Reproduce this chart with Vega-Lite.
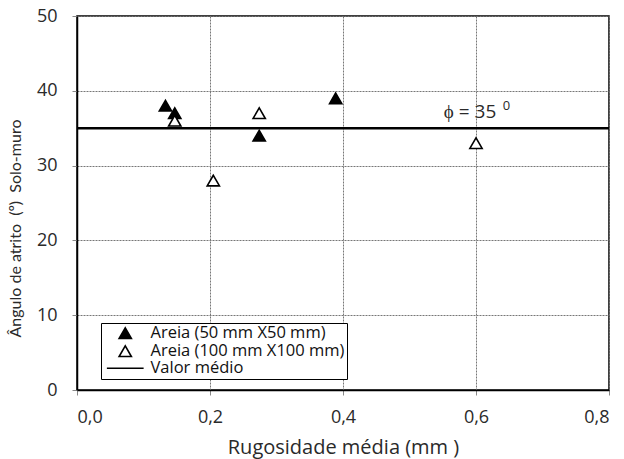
{
  "$schema": "https://vega.github.io/schema/vega-lite/v6.json",
  "width": 532,
  "height": 374,
  "autosize": "none",
  "padding": {"left": 77, "top": 16, "right": 15, "bottom": 69},
  "background": "white",
  "config": {
    "view": {"stroke": "black", "strokeWidth": 1.5},
    "axis": {
      "gridColor": "#777",
      "gridDash": [2, 1],
      "gridWidth": 1,
      "domainColor": "black",
      "domainWidth": 1.5,
      "tickColor": "#888",
      "tickSize": 5,
      "labelFont": "Open Sans",
      "labelFontSize": 18,
      "labelColor": "#2a2a2a",
      "titleFont": "Open Sans",
      "titleFontWeight": "normal",
      "titleColor": "#2a2a2a"
    }
  },
  "layer": [
    {
      "data": {
        "values": [
          {"rugosidade": 0.133, "angulo": 38, "serie": "Areia (50 mm X50 mm)"},
          {"rugosidade": 0.147, "angulo": 37, "serie": "Areia (50 mm X50 mm)"},
          {"rugosidade": 0.274, "angulo": 34, "serie": "Areia (50 mm X50 mm)"},
          {"rugosidade": 0.389, "angulo": 39, "serie": "Areia (50 mm X50 mm)"},
          {"rugosidade": 0.147, "angulo": 36, "serie": "Areia (100 mm X100 mm)"},
          {"rugosidade": 0.205, "angulo": 28, "serie": "Areia (100 mm X100 mm)"},
          {"rugosidade": 0.274, "angulo": 37, "serie": "Areia (100 mm X100 mm)"},
          {"rugosidade": 0.6, "angulo": 33, "serie": "Areia (100 mm X100 mm)"}
        ]
      },
      "mark": {"type": "point", "size": 150, "strokeWidth": 1.6, "opacity": 1},
      "encoding": {
        "x": {
          "field": "rugosidade",
          "type": "quantitative",
          "scale": {"domain": [0, 0.8], "nice": false},
          "axis": {
            "values": [0, 0.2, 0.4, 0.6, 0.8],
            "labelExpr": "replace(format(datum.value, '.1f'), '.', ',')",
            "labelPadding": 13,
            "title": "Rugosidade média (mm )",
            "titleFontSize": 20,
            "titlePadding": 11
          }
        },
        "y": {
          "field": "angulo",
          "type": "quantitative",
          "scale": {"domain": [0, 50], "nice": false},
          "axis": {
            "values": [0, 10, 20, 30, 40, 50],
            "labelPadding": 15,
            "title": "Ângulo de atrito\u00a0 (º)\u00a0 Solo-muro",
            "titleFont": "Lato",
            "titleFontSize": 16,
            "titleX": -54,
            "titleY": 212
          }
        },
        "shape": {
          "field": "serie",
          "type": "nominal",
          "scale": {
            "domain": ["Areia (50 mm X50 mm)", "Areia (100 mm X100 mm)", "Valor médio"],
            "range": ["triangle-up", "triangle-up", "M-3,0H3"]
          },
          "legend": {
            "title": null,
            "orient": "none",
            "legendX": 24,
            "legendY": 307,
            "strokeColor": "black",
            "fillColor": "white",
            "padding": 2,
            "symbolOffset": 14,
            "labelOffset": 17,
            "symbolSize": 150,
            "symbolStrokeColor": "black",
            "symbolStrokeWidth": 1.6,
            "labelFont": "Open Sans",
            "labelFontSize": 16.5,
            "labelLimit": 400,
            "labelColor": "#111",
            "rowPadding": 0,
            "encode": {
              "symbols": {
                "update": {
                  "strokeWidth": {"signal": "datum.value === 'Valor médio' ? 2.5 : 1.6"}
                }
              }
            }
          }
        },
        "fill": {
          "field": "serie",
          "type": "nominal",
          "scale": {
            "domain": ["Areia (50 mm X50 mm)", "Areia (100 mm X100 mm)", "Valor médio"],
            "range": ["black", "white", "black"]
          },
          "legend": null
        },
        "stroke": {
          "field": "serie",
          "type": "nominal",
          "scale": {
            "domain": ["Areia (50 mm X50 mm)", "Areia (100 mm X100 mm)", "Valor médio"],
            "range": ["black", "black", "black"]
          },
          "legend": null
        }
      }
    },
    {
      "data": {"values": [{"media": 35}]},
      "mark": {"type": "rule", "color": "black", "strokeWidth": 2.5},
      "encoding": {"y": {"field": "media", "type": "quantitative"}}
    },
    {
      "data": {"values": [{"x": 0.591, "y": 36.36, "rotulo": "ϕ = 35"}]},
      "mark": {"type": "text", "font": "Open Sans", "fontSize": 19, "color": "#2a2a2a", "baseline": "alphabetic", "align": "center"},
      "encoding": {
        "x": {"field": "x", "type": "quantitative"},
        "y": {"field": "y", "type": "quantitative"},
        "text": {"field": "rotulo"}
      }
    },
    {
      "data": {"values": [{"x": 0.646, "y": 37.4, "rotulo": "0"}]},
      "mark": {"type": "text", "font": "Open Sans", "fontSize": 13, "color": "#2a2a2a", "baseline": "alphabetic", "align": "center"},
      "encoding": {
        "x": {"field": "x", "type": "quantitative"},
        "y": {"field": "y", "type": "quantitative"},
        "text": {"field": "rotulo"}
      }
    }
  ]
}
